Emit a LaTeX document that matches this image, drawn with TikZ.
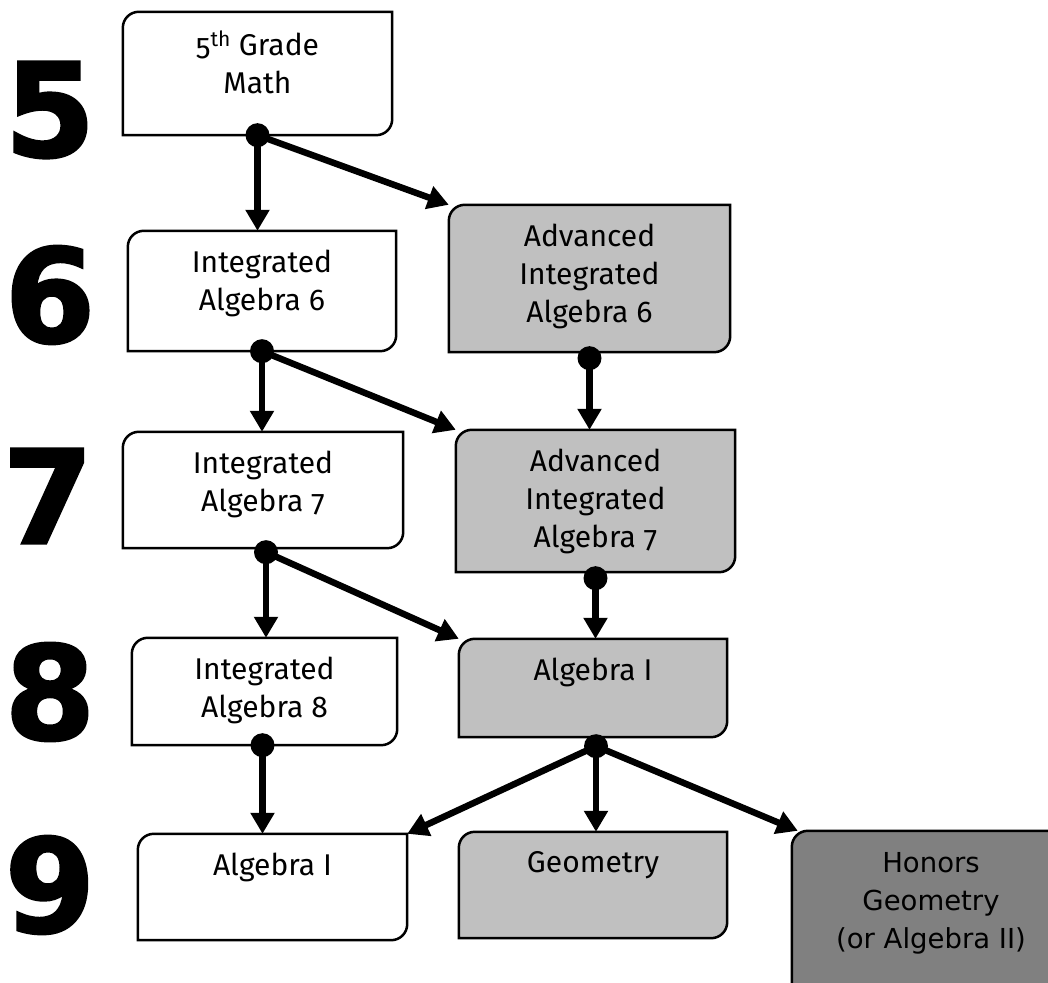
\documentclass[tikz,border=0pt]{standalone}
\usepackage{fontspec}
\setmainfont{Fira Sans}[Numbers=OldStyle]
\newfontfamily\hnfont{DejaVu Sans}
\newfontfamily\numfont{DejaVu Sans}[UprightFont=* Bold, FakeBold=2]
\usetikzlibrary{arrows.meta}

\definecolor{lightgrey}{HTML}{C0C0C0}
\definecolor{darkgrey}{HTML}{808080}

\tikzset{
  course/.style={rectangle, inner sep=0pt},
  coursetext/.style={anchor=north, align=center, inner sep=0pt,
    font=\fontsize{30}{38}\selectfont},
  dot/.style={circle, fill=black, inner sep=0pt, minimum size=24pt},
  flow/.style={line width=6.5pt, -{Triangle[width=23pt,length=21pt]}},
  grade/.style={font=\numfont\fontsize{130}{130}\selectfont, inner sep=0pt},
}

\begin{document}
\begin{tikzpicture}[x=1pt,y=1pt]
  \useasboundingbox (0,0) rectangle (1048,982);
  \clip (0,0) rectangle (1048,982);

  % grade numbers
  \node[grade] (n5) at (50,872) {5};
  \node[grade] (n6) at (50,687) {6};
  \node[grade] (n7) at (48,486) {7};
  \node[grade] (n8) at (50,290) {8};
  \node[grade] (n9) at (50,97)  {9};

  % course boxes
  \node[course, minimum width=269pt, minimum height=123pt] (g5)   at (257.5,908.5) {};
  \node[course, minimum width=268pt, minimum height=120pt] (ia6)  at (262,691)     {};
  \node[course, minimum width=281pt, minimum height=147pt] (aia6) at (589.5,703.5) {};
  \node[course, minimum width=280pt, minimum height=116pt] (ia7)  at (263,492)     {};
  \node[course, minimum width=279pt, minimum height=142pt] (aia7) at (595.5,481)   {};
  \node[course, minimum width=265pt, minimum height=107pt] (ia8)  at (264.5,290.5) {};
  \node[course, minimum width=268pt, minimum height=98pt]  (alg8) at (593,294)     {};
  \node[course, minimum width=269pt, minimum height=106pt] (alg9) at (272.5,95)    {};
  \node[course, minimum width=268pt, minimum height=106pt] (geo)  at (593,97)      {};
  \node[course, minimum width=278pt, minimum height=159pt] (hon)  at (931,71.5)    {};

  \foreach \n/\c in {g5/white, ia6/white, aia6/lightgrey, ia7/white, aia7/lightgrey,
                     ia8/white, alg8/lightgrey, alg9/white, geo/lightgrey, hon/darkgrey}
    \filldraw[fill=\c, line width=2.5pt]
      (\n.south west) -- ([yshift=-16pt]\n.north west)
      arc[start angle=180, end angle=90, radius=16pt] -- (\n.north east)
      -- ([yshift=16pt]\n.south east)
      arc[start angle=0, end angle=-90, radius=16pt] -- cycle;

  % course names
  \node[coursetext] (g5t)   at ([yshift=-19pt]g5.north)   {5\textsuperscript{th} Grade\\Math};
  \node[coursetext] (ia6t)  at ([yshift=-19pt]ia6.north)  {Integrated\\Algebra 6};
  \node[coursetext] (aia6t) at ([yshift=-19pt]aia6.north) {Advanced\\Integrated\\Algebra 6};
  \node[coursetext] (ia7t)  at ([yshift=-19pt]ia7.north)  {Integrated\\Algebra 7};
  \node[coursetext] (aia7t) at ([yshift=-19pt]aia7.north) {Advanced\\Integrated\\Algebra 7};
  \node[coursetext] (ia8t)  at ([yshift=-19pt]ia8.north)  {Integrated\\Algebra 8};
  \node[coursetext] (alg8t) at ([yshift=-19pt]alg8.north) {Algebra I};
  \node[coursetext] (alg9t) at ([yshift=-19pt]alg9.north) {Algebra I};
  \node[coursetext] (geot)  at ([yshift=-19pt]geo.north)  {Geometry};
  \node[coursetext, font=\hnfont\fontsize{27.5}{38}\selectfont] (hont)
    at ([yshift=-21pt]hon.north) {Honors\\Geometry\\(or Algebra II)};

  % branch points
  \coordinate (p5)   at (g5.south);
  \coordinate (p6)   at (ia6.south);
  \coordinate (pa6)  at ([yshift=-6pt]aia6.south);
  \coordinate (p7)   at ([xshift=3pt,yshift=-4pt]ia7.south);
  \coordinate (pa7)  at ([yshift=-6pt]aia7.south);
  \coordinate (p8)   at ([xshift=-2pt]ia8.south);
  \coordinate (palg) at ([xshift=3pt,yshift=-9pt]alg8.south);

  % arrows
  \draw[flow] (p5) -- (p5 |- ia6.north);
  \draw[flow] (p5) -- (aia6.north west);
  \draw[flow] (p6) -- (p6 |- ia7.north);
  \draw[flow] (p6) -- (aia7.north west);
  \draw[flow] (pa6) -- (pa6 |- aia7.north);
  \draw[flow] (p7) -- (p7 |- ia8.north);
  \draw[flow] (p7) -- (alg8.north west);
  \draw[flow] (pa7) -- (pa7 |- alg8.north);
  \draw[flow] (p8) -- (p8 |- alg9.north);
  \draw[flow] (palg) -- (alg9.north east);
  \draw[flow] (palg) -- (palg |- geo.north);
  \draw[flow] (palg) -- ([xshift=6pt]hon.north west);

  \foreach \p in {p5, p6, pa6, p7, pa7, p8, palg}
    \node[dot] (\p d) at (\p) {};
\end{tikzpicture}
\end{document}
